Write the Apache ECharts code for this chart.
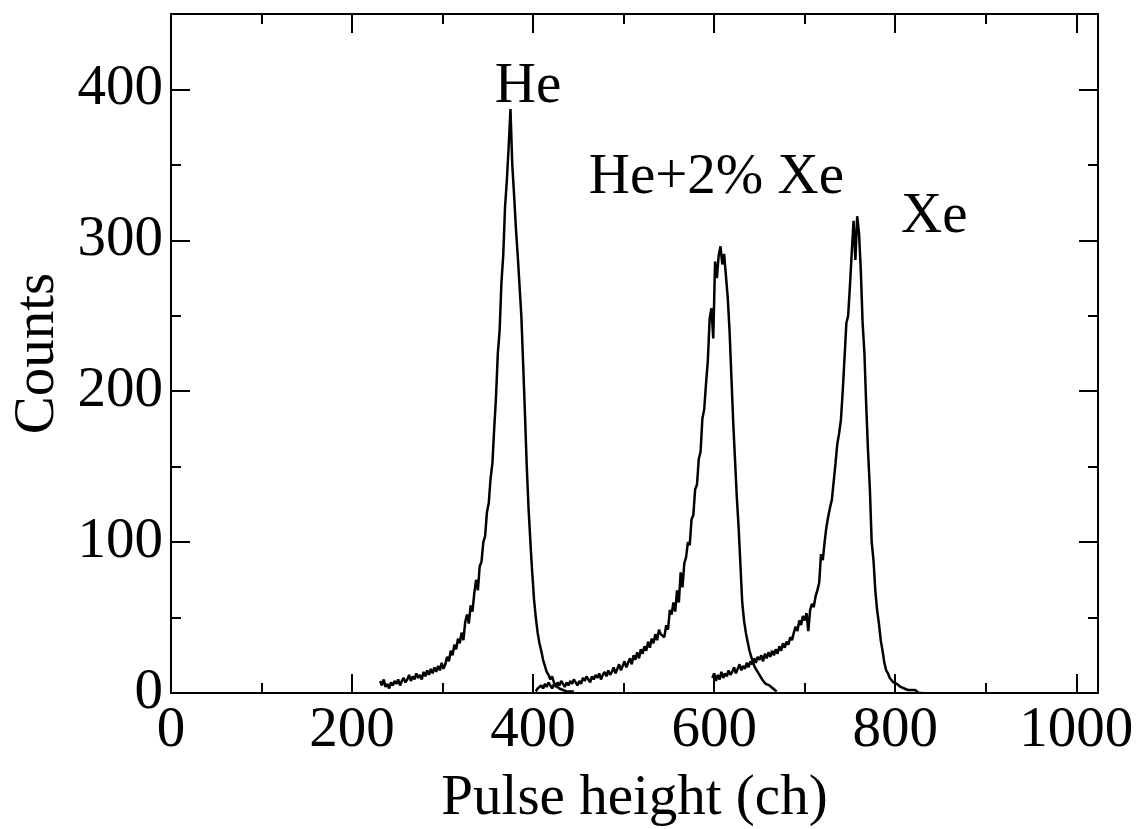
<!DOCTYPE html>
<html>
<head>
<meta charset="utf-8">
<title>Pulse height spectra</title>
<script src="https://cdn.jsdelivr.net/npm/echarts@6/dist/echarts.min.js"></script>
<style>
  html, body { margin: 0; padding: 0; background: #fff; }
  #chart { width: 1145px; height: 829px; }
</style>
</head>
<body>
<div id="chart"></div>
<script>
// Pulse height spectra (counts per channel), binned every 2 channels.
const heStart = 231, heStep = 2;
const heCounts = [
  8, 5, 9, 4, 6, 3, 7, 5, 8, 6, 9, 5, 8, 10, 7, 9, 12, 8, 11, 9,
  13, 10, 12, 9, 14, 11, 15, 12, 16, 13, 17, 14, 18, 15, 20, 16, 19, 24, 21, 28,
  25, 32, 29, 36, 33, 40, 35, 47, 52, 46, 58, 54, 66, 75, 68, 84, 87, 100, 104, 120,
  126, 142, 152, 175, 196, 225, 240, 272, 290, 322, 340, 362, 387, 350, 330, 308, 290, 270, 250, 218,
  185, 150, 122, 100, 80, 62, 50, 40, 33, 28, 22, 18, 14, 12, 9, 11, 7, 5, 6, 3,
  4, 2, 3, 1, 2, 1, 0, 1
];

const mixStart = 403, mixStep = 2;
const mixCounts = [
  1, 3, 2, 5, 3, 6, 4, 7, 5, 3, 6, 4, 7, 5, 8, 6, 4, 7, 5, 8,
  6, 9, 7, 5, 8, 6, 10, 8, 11, 9, 7, 11, 9, 12, 10, 13, 9, 12, 14, 11,
  15, 12, 14, 17, 13, 16, 19, 15, 18, 21, 17, 20, 23, 19, 25, 22, 27, 23, 29, 26,
  31, 28, 34, 30, 36, 33, 39, 35, 42, 39, 40, 37, 45, 42, 55, 52, 60, 54, 68, 60,
  80, 70, 86, 90, 100, 98, 115, 118, 135, 138, 155, 160, 182, 188, 205, 220, 248, 255, 235, 286,
  275, 290, 296, 284, 291, 292, 262, 240, 210, 180, 155, 130, 110, 85, 60, 48, 40, 34, 28, 24,
  20, 17, 15, 13, 11, 9, 8, 6, 7, 5, 4, 3, 2, 1
];

const xeStart = 598, xeStep = 2;
const xeCounts = [
  10, 13, 8, 12, 9, 14, 10, 13, 11, 15, 12, 14, 17, 13, 16, 19, 15, 18, 16, 20,
  17, 21, 19, 23, 20, 24, 22, 25, 21, 26, 23, 27, 24, 28, 25, 29, 26, 31, 28, 33,
  30, 34, 32, 37, 35, 40, 44, 41, 48, 45, 51, 48, 53, 41, 55, 59, 57, 64, 68, 73,
  92, 88, 100, 110, 117, 123, 128, 140, 152, 165, 172, 181, 200, 222, 245, 250, 270, 292, 313, 287,
  316, 305, 280, 245, 225, 190, 160, 135, 100, 88, 68, 55, 46, 35, 28, 20, 15, 13, 10, 9,
  7, 8, 6, 5, 4, 5, 3, 4, 2, 3, 2, 1, 2, 1, 0, 1, 0
];

// Peak annotations: text and anchor [channel, counts]
const peakNames = ['He', 'He+2% Xe', 'Xe'];
const peakAnchors = [[395, 401], [462, 341], [807, 315]];
const peakAlign = ['center', 'left', 'left'];

// Axis ticks
const xMajorTicks = [0, 200, 400, 600, 800, 1000];
const xMinorTicks = [100, 300, 500, 700, 900];
const yMajorTicks = [0, 100, 200, 300, 400];
const yMinorTicks = [50, 150, 250, 350];
const xRange = [0, 1024];
const yRange = [0, 450];

const FONT = "'Liberation Serif', 'Times New Roman', Times, serif";
const INK = '#000';

function toPairs(start, step, counts) {
  return counts.map((v, i) => [start + i * step, v]);
}

function tickAxis(base, pos, ticks, len, withLine) {
  return Object.assign({
    type: 'value',
    position: pos,
    min: base[0],
    max: base[1],
    axisLine: { show: withLine, onZero: false, lineStyle: { color: INK, width: 2 } },
    axisTick: { show: true, inside: true, length: len, customValues: ticks,
                lineStyle: { color: INK, width: 2 } },
    axisLabel: { show: false },
    splitLine: { show: false },
    silent: true
  });
}

const chart = echarts.init(document.getElementById('chart'), null, { renderer: 'canvas' });

const plainNumber = v => String(v);

const xMain = tickAxis(xRange, 'bottom', xMajorTicks, 19, true);
xMain.axisLabel = {
  show: true, customValues: xMajorTicks, margin: 10, formatter: plainNumber,
  fontFamily: FONT, fontSize: 57, color: INK
};
xMain.name = 'Pulse height (ch)';
xMain.nameLocation = 'middle';
xMain.nameGap = 78;
xMain.nameTextStyle = { fontFamily: FONT, fontSize: 57, color: INK };

const yMain = tickAxis(yRange, 'left', yMajorTicks, 19, true);
yMain.axisLabel = {
  show: true, customValues: yMajorTicks, margin: 8, formatter: plainNumber,
  fontFamily: FONT, fontSize: 57, color: INK
};
yMain.name = 'Counts';
yMain.nameLocation = 'middle';
yMain.nameGap = 104;
yMain.nameRotate = 90;
yMain.nameTextStyle = { fontFamily: FONT, fontSize: 57, color: INK };

const lineSeries = (name, data) => ({
  name: name,
  type: 'line',
  xAxisIndex: 0,
  yAxisIndex: 0,
  data: data,
  showSymbol: false,
  symbol: 'none',
  lineStyle: { color: INK, width: 2.5 },
  itemStyle: { color: INK },
  silent: true,
  z: 3
});

const annotationLabel = align => ({
  show: true,
  formatter: '{b}',
  position: [0, 0],
  align: align,
  verticalAlign: 'middle',
  fontFamily: FONT,
  fontSize: 57,
  color: INK,
  opacity: 1,
  textBorderWidth: 0
});

chart.setOption({
  animation: false,
  backgroundColor: '#fff',
  grid: { left: 171, right: 47, top: 14, bottom: 136, outerBoundsMode: 'none', containLabel: false },
  xAxis: [
    xMain,
    tickAxis(xRange, 'bottom', xMinorTicks, 10, false),
    tickAxis(xRange, 'top', xMajorTicks, 19, true),
    tickAxis(xRange, 'top', xMinorTicks, 10, false)
  ],
  yAxis: [
    yMain,
    tickAxis(yRange, 'left', yMinorTicks, 10, false),
    tickAxis(yRange, 'right', yMajorTicks, 19, true),
    tickAxis(yRange, 'right', yMinorTicks, 10, false)
  ],
  series: [
    lineSeries('He', toPairs(heStart, heStep, heCounts)),
    lineSeries('He+2% Xe', toPairs(mixStart, mixStep, mixCounts)),
    lineSeries('Xe', toPairs(xeStart, xeStep, xeCounts)),
    {
      type: 'scatter',
      xAxisIndex: 0,
      yAxisIndex: 0,
      symbolSize: 1,
      itemStyle: { opacity: 0 },
      silent: true,
      data: peakNames.map((n, i) => ({
        name: n,
        value: peakAnchors[i],
        label: annotationLabel(peakAlign[i])
      })),
      label: annotationLabel('left'),
      z: 4
    }
  ]
});
</script>
</body>
</html>
